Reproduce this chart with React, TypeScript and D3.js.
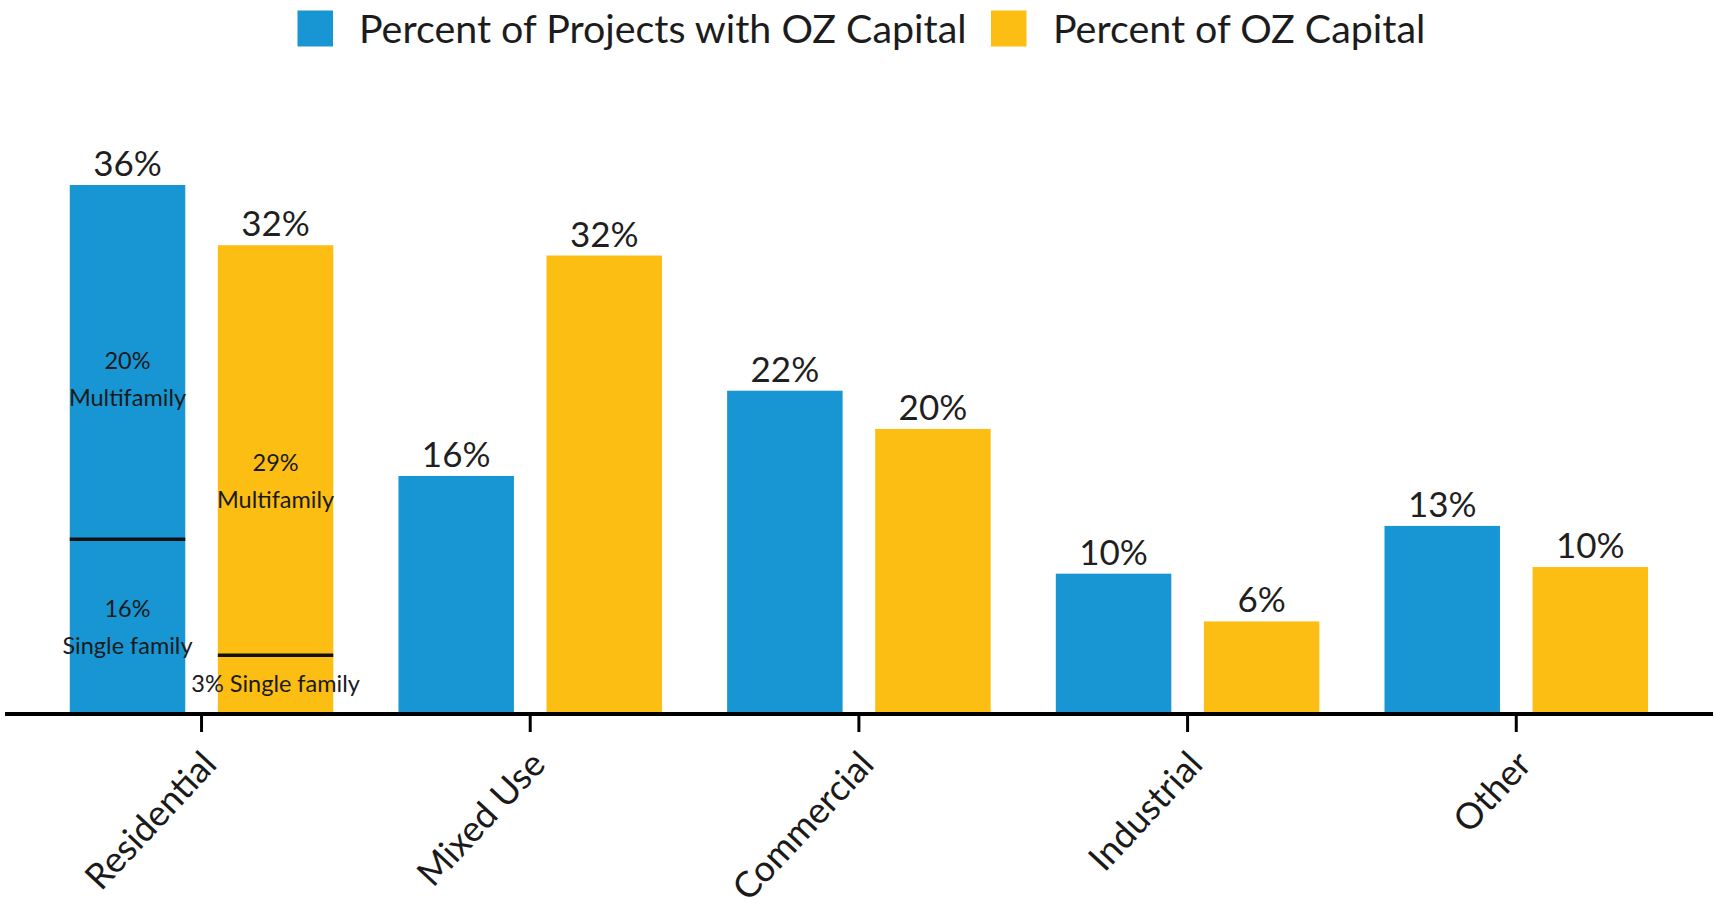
import React from "react";
import * as d3 from "d3";

// values
const categories = ["Residential", "Mixed Use", "Commercial", "Industrial", "Other"];
const seriesNames = ["Percent of Projects with OZ Capital", "Percent of OZ Capital"];
const seriesColors = ["#1896d3", "#fcbe13"];
const projectShare = [36, 16.2, 22.0, 9.55, 12.8];
const capitalShare = [31.9, 31.2, 19.4, 6.3, 10.0];
const projectLabels = ["36%", "16%", "22%", "10%", "13%"];
const capitalLabels = ["32%", "32%", "20%", "6%", "10%"];

// residential split (single family below the line)
const residentialSplit = [11.9, 4.0];
const residentialNotes = [
  { series: 0, at: 23.45, lines: ["20%", "Multifamily"] },
  { series: 0, at: 6.57, lines: ["16%", "Single family"] },
  { series: 1, at: 16.54, lines: ["29%", "Multifamily"] },
  { series: 1, at: 1.5, lines: ["3% Single family"] },
];

const W = 1716, H = 909;
const font = "Lato, 'Open Sans', sans-serif";

export default function App() {
  const x0 = d3.scaleBand().domain(categories).range([37.2, 1680.6]).padding(0);
  const x1 = d3.scaleBand().domain(["0", "1"]).range([0, x0.bandwidth()])
    .paddingInner(0.22).paddingOuter(0.22);
  const y = d3.scaleLinear().domain([0, 36]).range([714, 185]);

  const series = [projectShare, capitalShare];
  const labels = [projectLabels, capitalLabels];

  const bars = categories.flatMap((c, i) =>
    series.map((vals, s) => ({
      cat: c,
      s,
      x: (x0(c) ?? 0) + (x1(String(s)) ?? 0),
      v: vals[i],
      label: labels[s][i],
    }))
  );

  const bw = x1.bandwidth();
  const resX = (s: number) => (x0("Residential") ?? 0) + (x1(String(s)) ?? 0);

  // legend layout
  const legendFont = 39.4;
  const legendItems = [
    { sq: 297.5, tx: 359 },
    { sq: 991, tx: 1053 },
  ];

  return (
    <svg width={W} height={H} style={{ position: "absolute", left: 0, top: 0, background: "#fff" }}
      fontFamily={font}>
      {/* legend */}
      {seriesNames.map((name, s) => (
        <g key={name}>
          <rect x={legendItems[s].sq} y={10.5} width={35.5} height={36} fill={seriesColors[s]} />
          <text x={legendItems[s].tx} y={42.5} fontSize={legendFont} fill="#1c1c1c">{name}</text>
        </g>
      ))}

      {/* bars */}
      {bars.map(b => (
        <rect key={b.cat + b.s} x={b.x} y={y(b.v)} width={bw} height={y(0) - y(b.v)}
          fill={seriesColors[b.s]} />
      ))}

      {/* value labels */}
      {bars.map(b => (
        <text key={"l" + b.cat + b.s} x={b.x + bw / 2} y={y(b.v) - 9} textAnchor="middle"
          fontSize={35} fill="#1f1f1f">{b.label}</text>
      ))}

      {/* residential split lines */}
      {residentialSplit.map((v, s) => (
        <line key={"split" + s} x1={resX(s)} x2={resX(s) + bw} y1={y(v)} y2={y(v)}
          stroke="#111" strokeWidth={3.5} />
      ))}
      {residentialNotes.map((n, k) => (
        <text key={"note" + k} x={resX(n.series) + bw / 2} y={y(n.at)} textAnchor="middle"
          fontSize={23.5} fill="#1a1a1a">
          {n.lines.map((l, j) => (
            <tspan key={j} x={resX(n.series) + bw / 2} dy={j === 0 ? 0 : 37}>{l}</tspan>
          ))}
        </text>
      ))}

      {/* x axis */}
      <line x1={5} x2={1713} y1={y(0)} y2={y(0)} stroke="#000" strokeWidth={4} />
      {categories.map(c => {
        const cx = (x0(c) ?? 0) + x0.bandwidth() / 2;
        return (
          <g key={"t" + c}>
            <line x1={cx} x2={cx} y1={y(0)} y2={y(0) + 18} stroke="#000" strokeWidth={3} />
            <text transform={`translate(${cx + 17},${y(0) + 52}) rotate(-47)`} textAnchor="end"
              fontSize={36} fill="#1a1a1a">{c}</text>
          </g>
        );
      })}
    </svg>
  );
}
